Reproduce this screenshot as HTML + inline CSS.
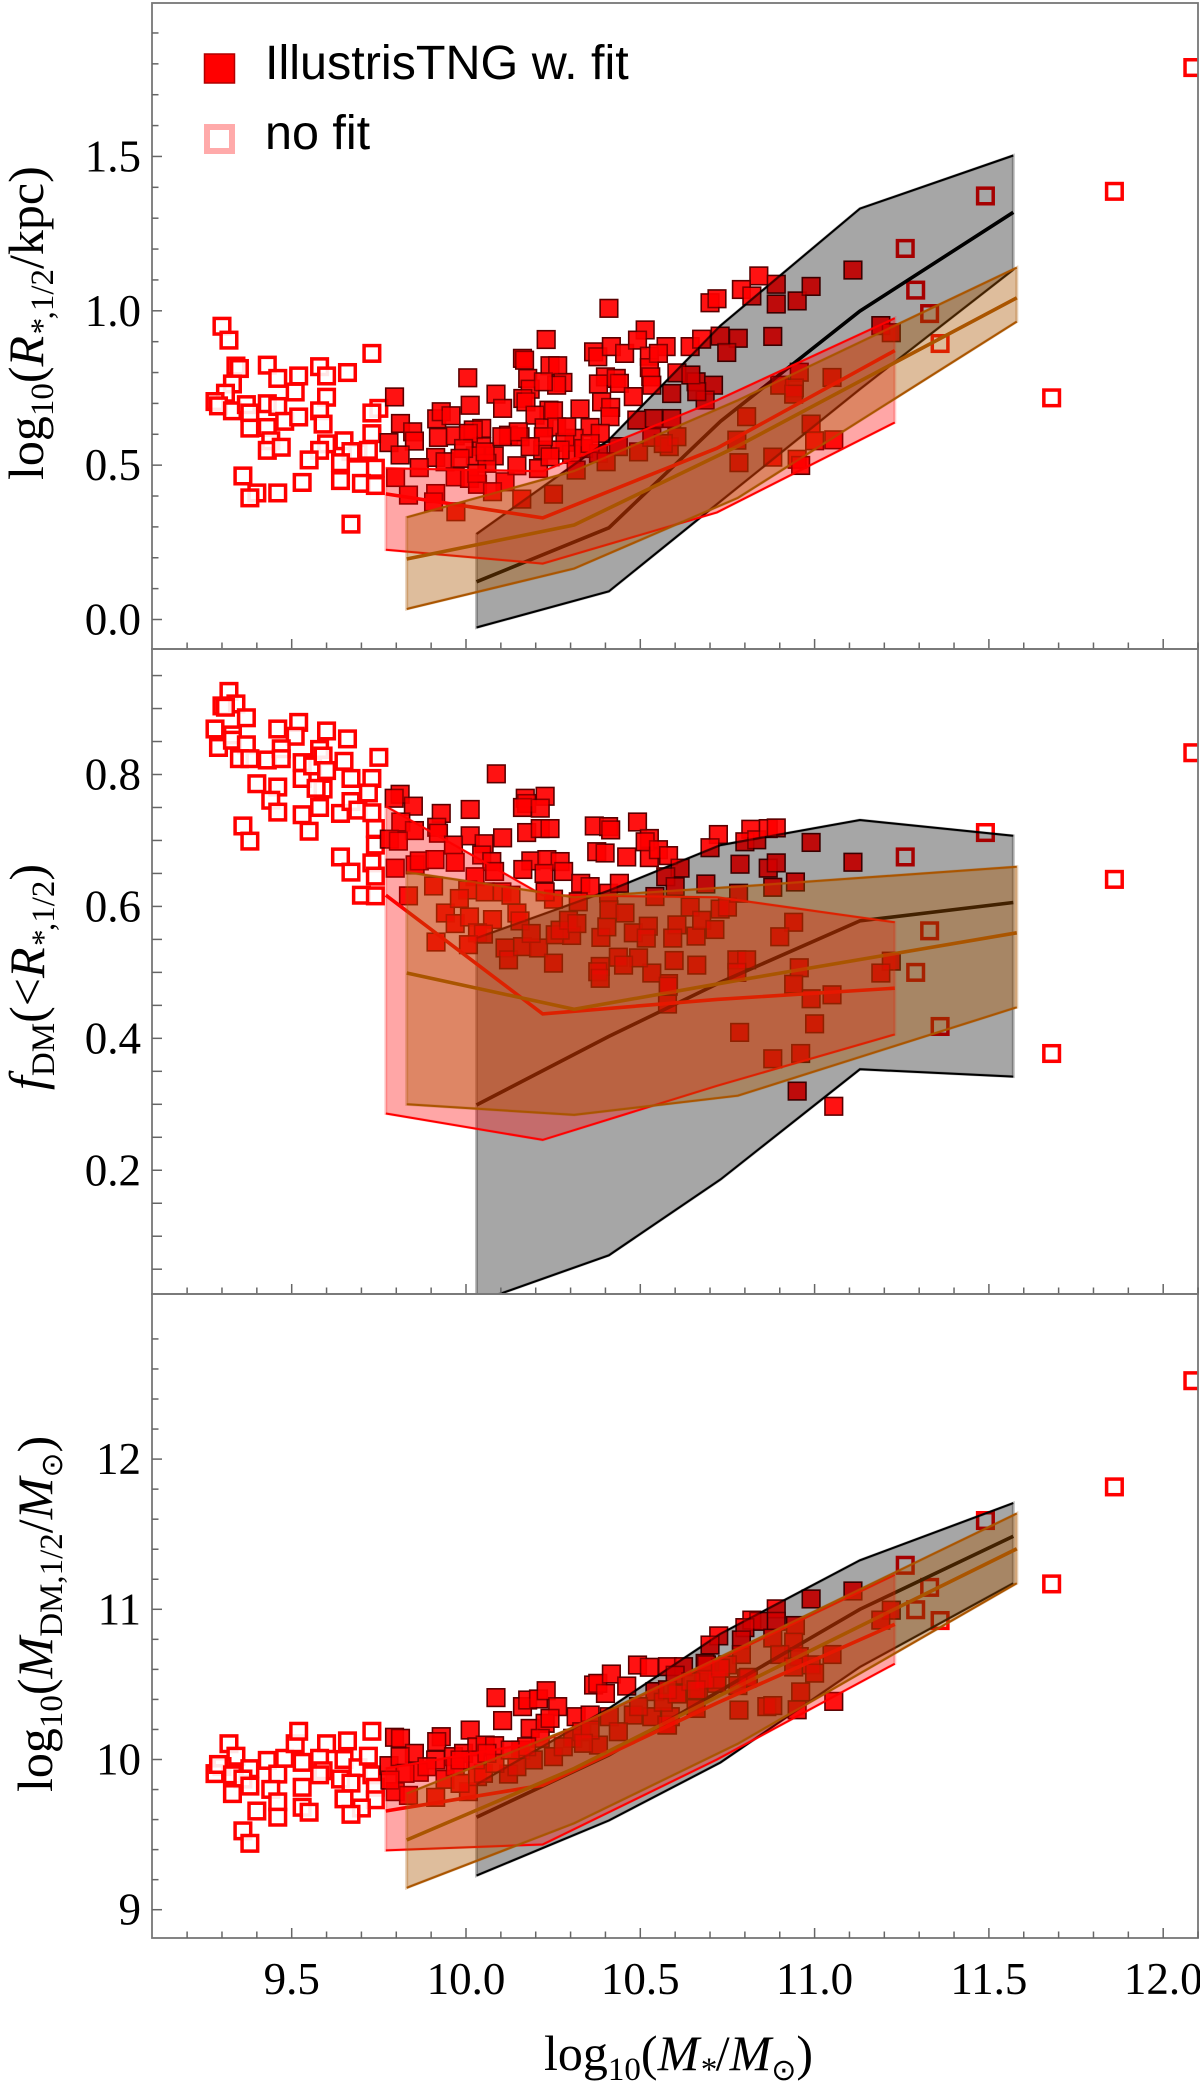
<!DOCTYPE html>
<html lang="en">
<head>
<meta charset="utf-8">
<title>IllustrisTNG galaxy scaling relations</title>
<style>
html,body{margin:0;padding:0;background:#fff;}
svg{display:block;}
text{font-family:"Liberation Serif","DejaVu Serif",serif;fill:#000;}
.legend-text{font-family:"Liberation Sans",sans-serif;font-size:48.5px;}
.title{font-size:50px;}
.it{font-style:italic;}
</style>
</head>
<body>
<svg id="chart" xmlns="http://www.w3.org/2000/svg" width="1200" height="2091" viewBox="0 0 1200 2091">
<defs>
<clipPath id="clip-0"><rect x="152" y="3" width="1046" height="646"/></clipPath>
<clipPath id="clip-1"><rect x="152" y="649" width="1046" height="645"/></clipPath>
<clipPath id="clip-2"><rect x="152" y="1294" width="1046" height="644"/></clipPath>
</defs>
<g id="panels"></g>
<g>
<rect x="204.5" y="54" width="30" height="29" fill="#ff0000" stroke="#b00000" stroke-width="1.5"/>
<text class="legend-text" x="265" y="79">IllustrisTNG w. fit</text>
<rect x="207" y="127" width="25" height="24" fill="#fff" stroke="#ffaaaa" stroke-width="6"/>
<text class="legend-text" x="265" y="149">no fit</text>
</g>
<text class="title" transform="translate(43,480) rotate(-90)">log<tspan font-size="33" dy="10">10</tspan><tspan dy="-10">(</tspan><tspan class="it">R</tspan><tspan font-size="33" dy="10"><tspan class="it">*</tspan>,1/2</tspan><tspan dy="-10">/kpc)</tspan></text>
<text class="title" transform="translate(44,1090) rotate(-90)"><tspan class="it">f</tspan><tspan font-size="33" dy="10">DM</tspan><tspan dy="-10">(&lt;</tspan><tspan class="it">R</tspan><tspan font-size="33" dy="10"><tspan class="it">*</tspan>,1/2</tspan><tspan dy="-10">)</tspan></text>
<text class="title" transform="translate(52,1792) rotate(-90)">log<tspan font-size="33" dy="10">10</tspan><tspan dy="-10">(</tspan><tspan class="it">M</tspan><tspan font-size="33" dy="10">DM,1/2</tspan><tspan dy="-10">/</tspan><tspan class="it">M</tspan><tspan font-size="30" dy="10" style="font-family:'DejaVu Sans',sans-serif">⊙</tspan><tspan dy="-10">)</tspan></text>
<text class="title" x="544" y="2070">log<tspan font-size="33" dy="10">10</tspan><tspan dy="-10">(</tspan><tspan class="it">M</tspan><tspan font-size="33" dy="10" class="it">*</tspan><tspan dy="-10">/</tspan><tspan class="it">M</tspan><tspan font-size="30" dy="10" style="font-family:'DejaVu Sans',sans-serif">⊙</tspan><tspan dy="-10">)</tspan></text>
</svg>
<script>
// ---- tick labels ----
const xTickLabels = ["9.5","10.0","10.5","11.0","11.5","12.0"];
const radiusTickLabels = ["0.0","0.5","1.0","1.5"];
const fractionTickLabels = ["0.2","0.4","0.6","0.8"];
const massTickLabels = ["9","10","11","12"];

// ---- band mass bins ----
const blackBins = [10.03,10.41,10.73,11.13,11.57];
const redBins = [9.77,10.22,10.72,11.23];
const orangeBins = [9.83,10.31,10.78,11.58];

// ---- radius panel bands ----
const radiusBlackHi = [.277,.582,.952,1.331,1.503];
const radiusBlackMid = [.122,.297,.642,.999,1.319];
const radiusBlackLo = [-.026,.091,.383,.746,1.133];
const radiusRedHi = [.49,.48,.71,.976];
const radiusRedMid = [.407,.329,.555,.871];
const radiusRedLo = [.226,.181,.347,.638];
const radiusOrangeHi = [.331,.481,.71,1.14];
const radiusOrangeMid = [.196,.306,.562,1.042];
const radiusOrangeLo = [.034,.165,.394,.965];

// ---- DM fraction panel bands ----
const fractionBlackHi = [.552,.624,.693,.731,.707];
const fractionBlackMid = [.299,.403,.485,.578,.606];
const fractionBlackLo = [0,.071,.186,.353,.342];
const fractionRedHi = [.752,.617,.614,.576];
const fractionRedMid = [.617,.437,.459,.476];
const fractionRedLo = [.286,.246,.328,.406];
const fractionOrangeHi = [.652,.614,.63,.66];
const fractionOrangeMid = [.499,.444,.488,.56];
const fractionOrangeLo = [.30,.284,.313,.447];

// ---- DM mass panel bands ----
const massBlackHi = [9.834,10.34,10.837,11.326,11.707];
const massBlackMid = [9.616,10.03,10.46,11.0,11.486];
const massBlackLo = [9.227,9.594,9.98,10.616,11.174];
const massRedHi = [9.94,10.12,10.66,11.23];
const massRedMid = [9.657,9.829,10.376,10.9];
const massRedLo = [9.395,9.434,10.0,10.638];
const massOrangeHi = [9.773,10.215,10.74,11.638];
const massOrangeMid = [9.464,9.94,10.486,11.403];
const massOrangeLo = [9.146,9.575,10.105,11.174];

// ---- radius panel points ----
const radiusOpenMass = [9.30,9.32,9.34,9.35,9.43,9.46,9.52,9.58,9.60,9.66,9.73,9.33,9.31,9.28,9.29,9.33,9.37,9.38,9.43,9.46,9.51,9.60,9.75,9.73,9.38,9.43,9.48,9.52,9.58,9.59,9.73,9.65,9.44,9.43,9.47,9.60,9.58,9.55,9.69,9.67,9.72,9.64,9.74,9.36,9.40,9.38,9.46,9.53,9.64,9.70,9.74,9.67,11.49,11.26,11.29,11.33,11.36,11.68,11.86,12.085];
const radiusOpenValue = [.95,.905,.821,.813,.824,.781,.789,.819,.789,.80,.862,.763,.733,.706,.692,.676,.696,.669,.699,.69,.737,.72,.684,.669,.62,.622,.642,.656,.676,.633,.602,.579,.579,.548,.558,.569,.548,.517,.539,.544,.548,.508,.49,.465,.41,.394,.41,.444,.45,.441,.434,.309,1.372,1.202,1.067,.991,.894,.718,1.387,1.788];
const radiusFitMass = [9.795,9.812,9.847,9.852,9.779,9.916,9.929,9.957,10.012,10.086,10.105,10.005,10.23,10.162,10.168,10.177,10.184,10.241,10.263,10.278,10.26,10.222,10.163,10.172,10.238,10.251,10.198,10.327,10.366,10.378,10.417,10.455,10.514,10.492,10.574,10.643,10.676,10.729,10.781,10.748,10.526,10.526,10.552,10.53,10.605,10.40,10.431,10.38,10.44,10.389,10.415,10.48,10.413,10.533,10.59,10.66,10.71,10.686,10.662,10.645,9.921,9.969,10.045,10.021,10.045,10.007,10.122,10.155,10.15,10.224,10.26,10.356,10.31,10.284,10.385,10.027,10.081,9.913,9.94,9.866,9.798,9.811,9.969,10.01,10.033,10.112,10.146,10.208,10.22,10.303,10.337,10.38,10.356,10.437,10.27,9.835,9.913,9.907,9.971,10.06,10.076,10.16,10.251,10.316,10.402,10.495,10.538,10.59,10.533,10.583,10.605,10.805,10.777,10.783,10.566,10.49,9.993,9.983,10.055,10.103,10.222,10.289,10.184,10.241,10.031,10.41,10.84,10.89,10.79,10.82,10.70,10.72,10.89,10.95,10.99,11.11,10.88,10.956,10.90,10.942,10.94,11.05,10.99,11.0,11.055,10.95,10.96,11.19,11.22,10.88];
const radiusFitValue = [.721,.635,.608,.578,.573,.65,.673,.66,.694,.73,.684,.783,.907,.846,.84,.781,.746,.822,.822,.768,.759,.77,.716,.705,.678,.676,.662,.682,.867,.851,.884,.862,.938,.905,.884,.884,.908,.918,.911,.865,.853,.816,.862,.786,.799,.786,.781,.763,.765,.705,.687,.722,.657,.759,.732,.77,.759,.711,.738,.792,.59,.595,.619,.614,.56,.603,.597,.592,.608,.621,.624,.622,.587,.574,.603,.53,.53,.525,.511,.492,.46,.533,.462,.457,.438,.446,.498,.489,.549,.535,.554,.538,.57,.56,.549,.403,.408,.381,.349,.506,.414,.39,.406,.484,.511,.543,.651,.651,.59,.56,.592,.657,.581,.508,.57,.646,.554,.522,.543,.592,.592,.624,.56,.527,.473,1.008,1.113,1.086,1.069,1.048,1.026,1.039,1.022,1.032,1.079,1.132,.917,.801,.759,.75,.73,.784,.633,.579,.582,.519,.499,.952,.929,.526];

// ---- DM fraction panel points ----
const fractionOpenMass = [9.32,9.34,9.30,9.31,9.37,9.28,9.29,9.33,9.33,9.37,9.35,9.38,9.40,9.43,9.46,9.52,9.51,9.47,9.47,9.46,9.44,9.46,9.53,9.53,9.58,9.56,9.59,9.60,9.60,9.66,9.65,9.67,9.73,9.75,9.59,9.57,9.58,9.53,9.55,9.64,9.67,9.69,9.72,9.73,9.74,9.74,9.36,9.38,9.64,9.67,9.73,9.74,9.70,9.74,11.49,11.26,11.33,11.29,11.36,11.68,11.86,12.085];
const fractionOpenValue = [.926,.907,.904,.902,.886,.869,.841,.86,.852,.845,.824,.824,.786,.822,.869,.879,.858,.839,.824,.781,.761,.743,.818,.794,.838,.813,.828,.866,.806,.854,.82,.794,.794,.826,.778,.779,.75,.739,.714,.741,.759,.746,.772,.742,.718,.693,.722,.699,.675,.652,.666,.646,.617,.616,.712,.675,.563,.50,.418,.377,.641,.833];
const fractionFitMass = [10.087,9.811,9.794,9.849,9.929,10.012,10.17,10.227,10.174,10.213,10.162,10.174,10.213,10.241,9.916,9.813,9.852,9.921,10.012,10.105,10.052,9.964,9.78,9.806,10.368,10.409,10.415,10.492,10.724,10.817,10.80,10.834,10.70,10.867,10.526,10.526,10.461,10.375,10.399,10.514,10.552,10.581,10.614,10.688,10.786,10.867,9.797,9.854,9.866,9.911,9.969,10.045,10.074,10.082,10.026,10.005,10.055,10.103,10.129,10.186,10.163,10.232,10.27,10.28,10.224,10.329,10.356,10.409,10.44,10.251,10.227,10.322,9.835,9.907,9.941,9.969,10.01,10.076,9.981,10.146,10.155,10.033,10.05,9.914,10.007,10.112,10.122,10.162,10.208,10.187,10.256,10.303,10.27,10.294,10.318,10.387,10.404,10.41,10.456,10.48,10.523,10.517,10.542,10.573,10.605,10.643,10.593,10.66,10.676,10.729,10.714,10.662,10.597,10.777,10.805,10.581,10.533,10.495,10.437,10.385,10.378,10.452,10.251,10.385,10.89,10.99,10.89,11.11,10.88,10.945,10.94,10.90,11.22,11.19,10.956,10.94,11.05,10.99,11.0,10.785,10.96,10.88,10.95,11.055,10.578,10.58,10.75,10.6,10.782,10.777];
const fractionFitValue = [.801,.77,.764,.752,.741,.747,.764,.767,.756,.749,.75,.712,.718,.718,.72,.728,.715,.711,.707,.704,.695,.693,.702,.699,.722,.721,.716,.728,.709,.717,.698,.701,.689,.718,.703,.674,.675,.683,.681,.698,.686,.677,.658,.634,.664,.658,.658,.663,.669,.671,.667,.678,.668,.653,.645,.625,.622,.622,.617,.669,.656,.671,.668,.653,.65,.635,.63,.62,.635,.611,.622,.607,.616,.631,.59,.574,.584,.58,.612,.59,.578,.56,.558,.546,.542,.537,.519,.539,.537,.559,.557,.556,.564,.579,.574,.553,.569,.595,.59,.56,.57,.552,.615,.645,.572,.599,.552,.555,.579,.596,.565,.511,.518,.519,.519,.483,.499,.522,.523,.509,.501,.511,.514,.491,.719,.697,.666,.667,.629,.637,.576,.554,.517,.499,.507,.482,.466,.46,.422,.409,.377,.369,.32,.297,.452,.479,.599,.63,.62,.50];

// ---- DM mass panel points ----
const massOpenMass = [9.32,9.34,9.30,9.28,9.29,9.33,9.38,9.36,9.38,9.33,9.43,9.48,9.51,9.52,9.53,9.46,9.44,9.53,9.46,9.40,9.46,9.53,9.55,9.36,9.38,9.60,9.58,9.66,9.59,9.58,9.65,9.69,9.64,9.67,9.73,9.72,9.73,9.74,9.65,9.74,9.70,9.67,11.49,11.26,11.33,11.29,11.36,11.68,11.86,12.085];
const massOpenValue = [10.105,10.022,9.953,9.906,9.967,9.898,9.939,9.87,9.823,9.773,9.994,10.008,10.105,10.188,9.981,9.903,9.801,9.815,9.718,9.657,9.616,9.682,9.649,9.525,9.442,10.105,10.008,10.124,9.925,9.898,10.0,9.945,9.87,9.843,10.188,10.022,9.898,9.815,9.738,9.732,9.677,9.635,11.591,11.293,11.146,10.997,10.925,11.169,11.815,12.522];
const massFitMass = [9.795,9.812,9.929,9.916,10.012,9.852,9.779,9.811,9.866,9.913,9.94,9.964,9.993,10.031,10.055,10.082,10.086,10.105,10.162,10.177,10.208,10.23,10.263,10.184,10.227,10.241,10.316,10.356,10.366,10.378,10.417,10.40,10.461,10.492,10.526,10.578,10.624,10.686,10.729,10.667,10.805,10.783,9.797,9.835,9.913,10.007,10.033,10.122,10.05,9.969,10.027,10.157,10.193,10.251,10.213,10.306,10.38,10.332,10.411,10.48,10.533,10.437,10.576,10.605,10.542,10.495,10.681,10.719,10.146,10.083,9.983,10.356,10.279,10.863,9.983,10.06,9.888,9.825,9.782,10.337,10.174,10.127,10.89,10.82,10.84,10.80,10.725,10.70,10.99,11.11,10.89,10.945,10.79,10.88,10.79,10.94,10.90,10.956,10.69,10.75,10.94,10.99,11.0,11.05,10.96,10.88,10.95,11.055,11.22,11.19,10.81,10.78,10.72,10.685,10.66,10.578,10.586,10.566,10.606,10.6,10.645,10.73,10.66,10.578];
const massFitValue = [10.148,10.141,10.152,10.119,10.196,10.041,9.959,10.019,9.915,9.997,9.868,10.019,10.041,10.085,10.096,10.092,10.412,10.259,10.352,10.396,10.403,10.458,10.352,10.207,10.241,10.274,10.285,10.296,10.496,10.507,10.569,10.44,10.489,10.629,10.614,10.618,10.618,10.64,10.607,10.463,10.54,10.329,9.786,9.761,9.748,9.786,9.886,9.903,9.908,9.952,9.997,10.063,9.997,10.019,10.141,10.141,10.096,10.185,10.285,10.296,10.285,10.185,10.23,10.44,10.452,10.352,10.529,10.507,9.952,9.974,9.841,10.196,10.085,10.352,9.997,10.041,9.952,9.908,9.863,10.108,10.085,10.063,11.003,10.928,10.92,10.878,10.823,10.762,11.069,11.122,10.92,10.892,10.796,10.809,10.699,10.782,10.699,10.685,10.63,10.63,10.616,10.63,10.575,10.699,10.45,10.359,10.331,10.387,10.994,10.928,10.547,10.492,10.533,10.533,10.34,10.229,10.285,10.381,10.436,10.561,10.519,10.608,10.464,10.464];

// ---- axis functions ----
const NS = 'http://www.w3.org/2000/svg';
const LEFT = 152, RIGHT = 1198;
function xAxis(v){ return 466 + (v - 10) * 348.6; }
function radiusAxis(v){ return 619.5 - v * 308.7; }
function fractionAxis(v){ return 774.5 + (0.8 - v) * 659.6; }
function massAxis(v){ return 1759.5 - (v - 10) * 150.2; }

const svgRoot = document.getElementById('panels');

function make(tag, attrs, parent){
  const el = document.createElementNS(NS, tag);
  for (const k in attrs) el.setAttribute(k, attrs[k]);
  parent.appendChild(el);
  return el;
}
function pointsAttr(xs, ys, yAxis){
  return xs.map(function(x, i){ return xAxis(x).toFixed(1) + ',' + yAxis(ys[i]).toFixed(1); }).join(' ');
}
function drawBand(parent, name, bins, hi, mid, lo, yAxis, color, alpha, sideAlpha){
  const group = make('g', {}, parent);
  
  
  const area = pointsAttr(bins, hi, yAxis) + ' ' + pointsAttr(bins.slice().reverse(), lo.slice().reverse(), yAxis);
  const poly = make('polygon', {points: area, fill: color, 'fill-opacity': alpha, stroke: color, 'stroke-opacity': sideAlpha, 'stroke-width': 3}, group);
  
  
  const up = make('polyline', {points: pointsAttr(bins, hi, yAxis), fill: 'none', stroke: color, 'stroke-width': 2}, group);
  
  
  const dn = make('polyline', {points: pointsAttr(bins, lo, yAxis), fill: 'none', stroke: color, 'stroke-width': 2}, group);
  
  
  const med = make('polyline', {points: pointsAttr(bins, mid, yAxis), fill: 'none', stroke: color, 'stroke-width': 3.6}, group);
  
  
}
function drawOpen(parent, xs, ys, yAxis){
  xs.forEach(function(x, i){
    const r = make('rect', {x: xAxis(x) - 7.8, y: yAxis(ys[i]) - 7.8, width: 15.6, height: 15.6, fill: '#fff', 'fill-opacity': .9, stroke: '#ff0000', 'stroke-width': 3.5}, parent);
    
    
  });
}
function drawFit(parent, xs, ys, yAxis){
  xs.forEach(function(x, i){
    const r = make('rect', {x: xAxis(x) - 8.8, y: yAxis(ys[i]) - 8.8, width: 17.6, height: 17.6, fill: 'rgba(255,0,0,.9)', stroke: '#5a0000', 'stroke-width': 1.6}, parent);
    
    
  });
}
function drawFitTint(parent, xs, ys, yAxis){
  xs.forEach(function(x, i){
    const r = make('rect', {x: xAxis(x) - 8, y: yAxis(ys[i]) - 8, width: 16, height: 16, fill: 'rgba(255,0,0,.28)'}, parent);
    
    
  });
}
function drawFrame(parent, top, bottom, yAxis, yStart, yStep, yCount, yMajorEvery, labels, labelStart, labelStep, showX){
  const frame = make('rect', {x: LEFT, y: top, width: RIGHT - LEFT, height: bottom - top, fill: 'none', stroke: '#777', 'stroke-width': 1.8}, parent);
  
  
  for (let i = 0; i < yCount; i++){
    const v = yStart + i * yStep;
    const y = yAxis(v);
    const major = i % yMajorEvery === 0;
    const t = make('line', {x1: LEFT, x2: LEFT + (major ? 10 : 6.5), y1: y, y2: y, stroke: '#666', 'stroke-width': 1.5}, parent);
    
    
  }
  labels.forEach(function(lab, i){
    const y = yAxis(labelStart + i * labelStep);
    const t = make('text', {x: 141, y: y + 15, 'text-anchor': 'end', 'font-size': 45}, parent);
    t.textContent = lab;
    
    
  });
  for (let i = 0; i <= 29; i++){
    const v = 9.2 + i * 0.1;
    const x = xAxis(v);
    const major = (i + 2) % 5 === 0 && i >= 3;
    const t = make('line', {x1: x, x2: x, y1: bottom, y2: bottom - (major ? 10 : 6.5), stroke: '#666', 'stroke-width': 1.5}, parent);
    
    
  }
  if (showX){
    xTickLabels.forEach(function(lab, i){
      const t = make('text', {x: xAxis(9.5 + i * 0.5), y: bottom + 56, 'text-anchor': 'middle', 'font-size': 45}, parent);
      t.textContent = lab;
      
      
    });
  }
}
function drawPanel(index, name, yAxis, openX, openY, fitX, fitY, bands){
  const panel = make('g', {}, svgRoot);
  
  
  const plot = make('g', {'clip-path': 'url(#clip-' + index + ')'}, panel);
  
  
  drawOpen(plot, openX, openY, yAxis);
  drawFit(plot, fitX, fitY, yAxis);
  drawBand(plot, name + '-black', blackBins, bands[0], bands[1], bands[2], yAxis, '#000000', .35, .25);
  drawBand(plot, name + '-red', redBins, bands[3], bands[4], bands[5], yAxis, '#ff0000', .35, .2);
  drawBand(plot, name + '-orange', orangeBins, bands[6], bands[7], bands[8], yAxis, '#aa5500', .39, .3);
  drawFitTint(plot, fitX, fitY, yAxis);
  return panel;
}

const p0 = drawPanel(0, 'radius', radiusAxis, radiusOpenMass, radiusOpenValue, radiusFitMass, radiusFitValue,
  [radiusBlackHi, radiusBlackMid, radiusBlackLo, radiusRedHi, radiusRedMid, radiusRedLo, radiusOrangeHi, radiusOrangeMid, radiusOrangeLo]);
drawFrame(p0, 3, 649, radiusAxis, 0, 0.1, 20, 5, radiusTickLabels, 0, 0.5, false);

const p1 = drawPanel(1, 'dm-fraction', fractionAxis, fractionOpenMass, fractionOpenValue, fractionFitMass, fractionFitValue,
  [fractionBlackHi, fractionBlackMid, fractionBlackLo, fractionRedHi, fractionRedMid, fractionRedLo, fractionOrangeHi, fractionOrangeMid, fractionOrangeLo]);
drawFrame(p1, 649, 1294, fractionAxis, 0.05, 0.05, 19, 1, fractionTickLabels, 0.2, 0.2, false);

const p2 = drawPanel(2, 'dm-mass', massAxis, massOpenMass, massOpenValue, massFitMass, massFitValue,
  [massBlackHi, massBlackMid, massBlackLo, massRedHi, massRedMid, massRedLo, massOrangeHi, massOrangeMid, massOrangeLo]);
drawFrame(p2, 1294, 1938, massAxis, 9, 0.2, 20, 5, massTickLabels, 9, 1, true);
</script>
</body>
</html>
